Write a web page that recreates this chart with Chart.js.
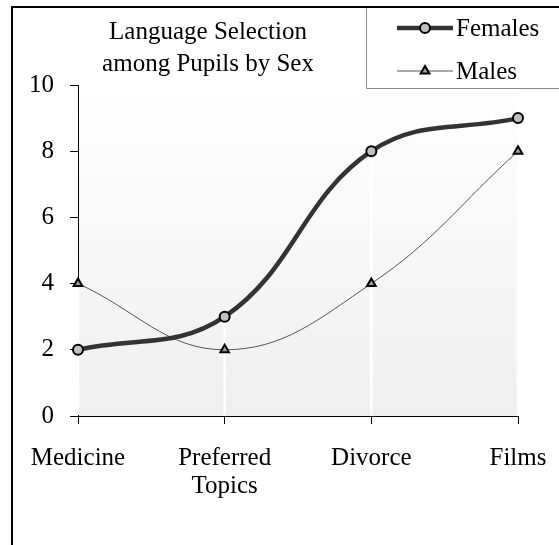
<!DOCTYPE html>
<html>
<head>
<meta charset="utf-8">
<script src="https://cdn.jsdelivr.net/npm/chart.js@4/dist/chart.umd.min.js"></script>
<style>
  html, body { margin: 0; padding: 0; background: #fff; }
  #wrap { width: 559px; height: 545px; }
</style>
</head>
<body>
<div id="wrap"><canvas id="myChart" width="559" height="545"></canvas></div>
<script>
// topics asked about, and how many pupils picked each
var topics = ['Medicine', ['Preferred', 'Topics'], 'Divorce', 'Films'];
var females = [2, 3, 8, 9];
var males = [4, 2, 4, 8];
var yTicks = { min: 0, max: 10, step: 2 };
var titleLines = ['Language Selection', 'among Pupils by Sex'];

var FONT = 'Liberation Serif, Times New Roman, serif';
var FS = 25;

// frame, title, legend, shaded plot and white drop lines
var decor = {
  id: 'decor',
  beforeDraw(chart) {
    var ctx = chart.ctx, a = chart.chartArea;
    ctx.save();
    var g = ctx.createLinearGradient(0, a.top, 0, a.bottom);
    g.addColorStop(0, '#ffffff');
    g.addColorStop(1, '#efefef');
    ctx.fillStyle = g;
    ctx.fillRect(a.left, a.top, a.right - a.left, a.bottom - a.top);
    ctx.restore();
  },
  beforeDatasetsDraw(chart) {
    var ctx = chart.ctx, a = chart.chartArea;
    ctx.save();
    ctx.strokeStyle = '#ffffff';
    ctx.lineWidth = 2.5;
    var m0 = chart.getDatasetMeta(0).data, m1 = chart.getDatasetMeta(1).data;
    for (var i = 0; i < m0.length; i++) {
      var top = Math.min(m0[i].y, m1[i].y);
      ctx.beginPath();
      ctx.moveTo(m0[i].x, top);
      ctx.lineTo(m0[i].x, a.bottom - 1);
      ctx.stroke();
    }
    ctx.restore();
  },
  afterDraw(chart) {
    var ctx = chart.ctx;
    ctx.save();
    // outer frame
    ctx.strokeStyle = '#000';
    ctx.lineWidth = 2;
    ctx.beginPath();
    ctx.moveTo(12, 545);
    ctx.lineTo(12, 7);
    ctx.lineTo(559, 7);
    ctx.stroke();

    // title
    ctx.fillStyle = '#000';
    ctx.font = FS + 'px ' + FONT;
    ctx.textAlign = 'center';
    ctx.textBaseline = 'alphabetic';
    ctx.fillText(titleLines[0], 208, 39);
    ctx.fillText(titleLines[1], 208, 71);

    // legend box
    ctx.strokeStyle = '#888';
    ctx.lineWidth = 1;
    ctx.beginPath();
    ctx.moveTo(366.5, 8);
    ctx.lineTo(366.5, 88.5);
    ctx.lineTo(559, 88.5);
    ctx.stroke();

    chart.data.datasets.forEach(function (ds, i) {
      var y = i === 0 ? 28 : 71;
      ctx.strokeStyle = ds.borderColor;
      ctx.lineWidth = ds.borderWidth;
      ctx.beginPath();
      ctx.moveTo(397, y);
      ctx.lineTo(453, y);
      ctx.stroke();
      ctx.fillStyle = ds.pointBackgroundColor;
      ctx.strokeStyle = ds.pointBorderColor;
      ctx.lineWidth = ds.pointBorderWidth;
      Chart.helpers.drawPoint(ctx, { pointStyle: ds.pointStyle, radius: ds.pointRadius, borderWidth: ds.pointBorderWidth, rotation: 0 }, 425, y);
      ctx.fillStyle = '#000';
      ctx.textAlign = 'left';
      ctx.fillText(ds.label, 456, y + 8);
    });
    ctx.restore();
  }
};

new Chart('myChart', {
  type: 'line',
  data: {
    labels: topics,
    datasets: [{
      label: 'Females',
      data: females,
      borderColor: '#333333',
      borderWidth: 4.5,
      tension: 0.4,
      pointStyle: 'circle',
      pointRadius: 5,
      pointBackgroundColor: '#c0c0c0',
      pointBorderColor: '#000',
      pointBorderWidth: 2,
      fill: false
    }, {
      label: 'Males',
      data: males,
      borderColor: '#555555',
      borderWidth: 1,
      tension: 0.4,
      pointStyle: 'triangle',
      pointRadius: 5,
      pointBackgroundColor: '#a0a0a0',
      pointBorderColor: '#000',
      pointBorderWidth: 2,
      fill: false
    }]
  },
  options: {
    responsive: false,
    animation: false,
    devicePixelRatio: 1,
    layout: { padding: { left: 12, right: 41, top: 85, bottom: 0 } },
    plugins: {
      legend: { display: false },
      title: { display: false },
      tooltip: { enabled: false }
    },
    scales: {
      x: {
        offset: false,
        grid: { drawOnChartArea: false, tickLength: 8, color: '#000', lineWidth: 1 },
        border: { color: '#000', width: 1 },
        ticks: {
          color: '#000', padding: 20, maxRotation: 0, autoSkip: false,
          font: { family: FONT, size: FS, lineHeight: 1.13 }
        },
        afterFit: function (s) {
          s.height = 129;
          s.paddingLeft = 0;
          s.paddingRight = 0;
        }
      },
      y: {
        min: yTicks.min,
        max: yTicks.max,
        grid: { drawOnChartArea: false, tickLength: 8, color: '#000', lineWidth: 1 },
        border: { color: '#000', width: 1 },
        ticks: {
          stepSize: yTicks.step, color: '#000', padding: 16,
          font: { family: FONT, size: FS }
        },
        afterFit: function (s) { s.width = 66; }
      }
    }
  },
  plugins: [decor]
});
</script>
</body>
</html>
